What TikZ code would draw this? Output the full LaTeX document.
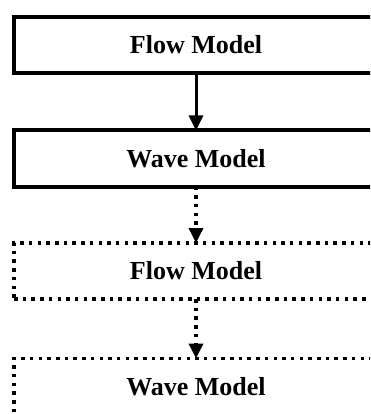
\documentclass[tikz,border=0pt]{standalone}
\usepackage{fontspec}
\setmainfont{Liberation Serif}
\usetikzlibrary{arrows.meta}
\begin{document}
\begin{tikzpicture}[x=1pt,y=-1pt,
  model/.style={draw, line width=4pt, minimum width=364pt, minimum height=56pt,
    inner sep=0pt, outer sep=0pt, font=\fontsize{26}{30}\selectfont\bfseries},
  tentative/.style={model, line width=3.5pt, dash pattern=on 3.5pt off 5.2pt},
  link/.style={line width=3pt, -{Triangle[width=14pt,length=15pt]}},
  tentlink/.style={link, line width=3.5pt, dash pattern=on 3.5pt off 5.2pt}]
\useasboundingbox (0,0) rectangle (370,414);
\clip (0,0) rectangle (370,414);

% committed coupling step
\node[model] (flowA) at (196,45) {Flow Model};
\node[model] (waveA) at (196,158.5) {Wave Model};

% next, tentative coupling step
\node[tentative] (flowB) at (196,271) {Flow Model};
\node[tentative, minimum height=57pt] (waveB) at (196,387) {Wave Model};

\draw[link] (flowA.south) -- (waveA.north);
\draw[tentlink] (waveA.south) -- (flowB.north);
\draw[tentlink] (flowB.south) -- (waveB.north);
\end{tikzpicture}
\end{document}
